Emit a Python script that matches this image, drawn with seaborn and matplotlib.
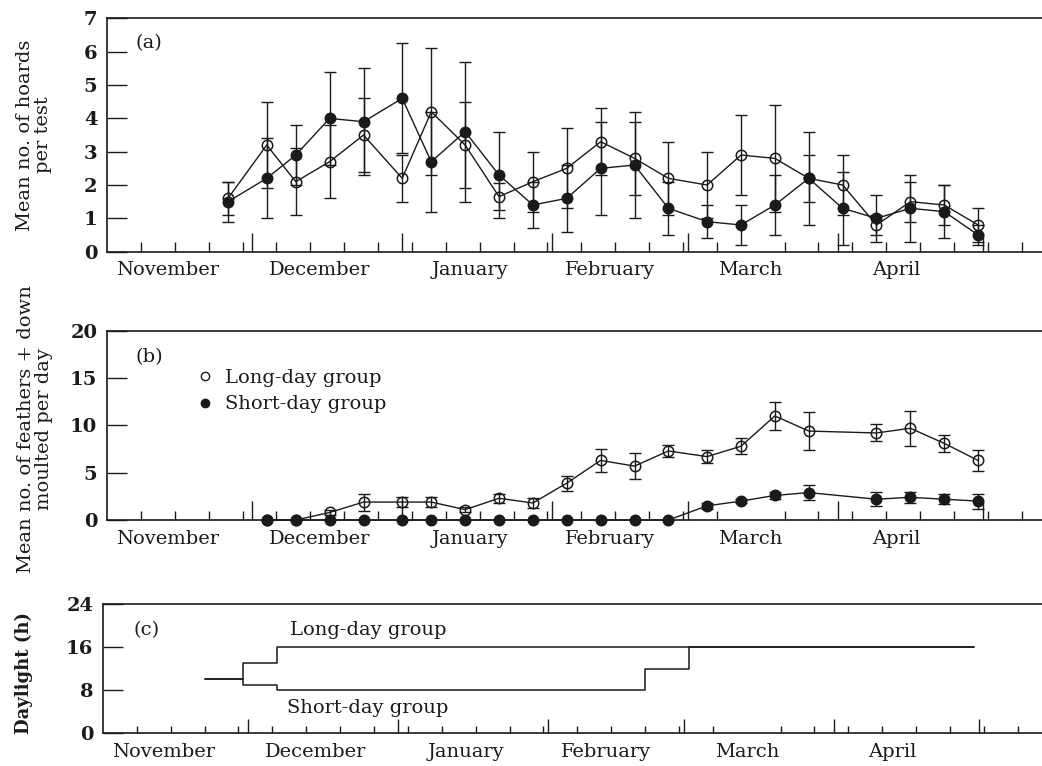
import numpy as np
import matplotlib
matplotlib.use("Agg")
import matplotlib.pyplot as plt
from matplotlib.lines import Line2D
import seaborn as sns

sns.set_theme(style="ticks")
plt.rcParams['font.family'] = ['DejaVu Serif']
plt.rcParams['font.size'] = 14

INK = '#1a1a1a'

# x axis: days counted from 1 November
months = ['November', 'December', 'January', 'February', 'March', 'April']
month_label_days = [12.5, 44, 75, 104, 133, 163]
month_starts = [30, 61, 92, 120, 151, 181]
week_days = list(range(7, 190, 7))

# (a) hoarding
hoard_days = [25, 33, 39, 46, 53, 61, 67, 74, 81, 88, 95, 102, 109, 116, 124, 131, 138, 145, 152, 159, 166, 173, 180]
long_hoard = [1.6, 3.2, 2.1, 2.7, 3.5, 2.2, 4.2, 3.2, 1.65, 2.1, 2.5, 3.3, 2.8, 2.2, 2.0, 2.9, 2.8, 2.2, 2.0, 0.8, 1.5, 1.4, 0.8]
long_hoard_se = [0.5, 1.3, 1.0, 1.1, 1.1, 0.7, 1.9, 1.3, 0.4, 0.9, 1.2, 1.0, 1.1, 1.1, 1.0, 1.2, 1.6, 0.7, 0.9, 0.3, 0.6, 0.6, 0.5]
short_hoard = [1.5, 2.2, 2.9, 4.0, 3.9, 4.6, 2.7, 3.6, 2.3, 1.4, 1.6, 2.5, 2.6, 1.3, 0.9, 0.8, 1.4, 2.2, 1.3, 1.0, 1.3, 1.2, 0.5]
short_hoard_se = [0.6, 1.2, 0.9, 1.4, 1.6, 1.65, 1.5, 2.1, 1.3, 0.7, 1.0, 1.4, 1.6, 0.8, 0.5, 0.6, 0.9, 1.4, 1.1, 0.7, 1.0, 0.8, 0.3]

# (b) moult
moult_days = [33, 39, 46, 53, 61, 67, 74, 81, 88, 95, 102, 109, 116, 124, 131, 138, 145, 159, 166, 173, 180]
long_moult = [0, 0, 0.8, 1.9, 1.9, 1.9, 1.1, 2.3, 1.8, 3.9, 6.3, 5.7, 7.3, 6.7, 7.8, 11.0, 9.4, 9.2, 9.7, 8.1, 6.3]
long_moult_se = [0, 0, 0.3, 0.9, 0.55, 0.5, 0.3, 0.5, 0.5, 0.8, 1.2, 1.35, 0.65, 0.65, 0.85, 1.45, 2.0, 0.9, 1.85, 0.9, 1.15]
short_moult = [0, 0, 0, 0, 0, 0, 0, 0, 0, 0, 0, 0, 0, 1.5, 2.0, 2.6, 2.9, 2.2, 2.4, 2.2, 2.0]
short_moult_se = [0, 0, 0, 0, 0, 0, 0, 0, 0, 0, 0, 0, 0, 0.35, 0.25, 0.35, 0.8, 0.75, 0.6, 0.5, 0.8]

# (c) photoperiod
long_light_days = [21, 29, 36, 180]
long_light = [10, 13, 16, 16]
short_light_days = [21, 29, 36, 112, 121, 180]
short_light = [10, 9, 8, 12, 16, 16]


def style_axis(ax, xmax, ymax, yticks, minor_len, major_len):
    ax.set_xlim(0, xmax)
    ax.set_ylim(0, ymax)
    ax.spines['right'].set_visible(False)
    for s in ['top', 'left', 'bottom']:
        ax.spines[s].set_linewidth(1.2)
        ax.spines[s].set_color(INK)
    ax.set_xticks(month_label_days, labels=months)
    ax.set_xticks(week_days, minor=True)
    ax.tick_params(axis='x', which='major', length=0, pad=7, labelsize=14, colors=INK)
    ax.tick_params(axis='x', which='minor', direction='in', length=minor_len, width=1, color=INK)
    ax.set_yticks(yticks)
    ax.tick_params(axis='y', direction='in', length=14.4, width=1, pad=7, labelsize=14, colors=INK)
    for lab in ax.get_yticklabels():
        lab.set_fontweight('bold')
    sec = ax.secondary_xaxis('bottom')
    sec.set_xticks(month_starts)
    sec.tick_params(direction='in', length=major_len, width=1, labelbottom=False, color=INK)
    sec.spines['bottom'].set_visible(False)
    ax.set_xlabel('')


def draw_series(ax, days, vals, errs, filled):
    face = INK if filled else 'none'
    sns.lineplot(x=days, y=vals, ax=ax, color=INK, linewidth=1.0, marker='o',
                 markersize=7.5, markerfacecolor=face, markeredgecolor=INK,
                 markeredgewidth=1.1, errorbar=None, clip_on=False, zorder=3)
    d = np.array(days)
    v = np.array(vals)
    e = np.array(errs)
    m = e > 0
    ax.errorbar(d[m], v[m], yerr=e[m], fmt='none', ecolor=INK, elinewidth=1.0,
                capsize=4.5, capthick=1.0, zorder=4, clip_on=False)


fig = plt.figure(figsize=(10.42, 7.66), dpi=100)
ax_a = fig.add_axes([0.1027, 0.6715, 0.8973, 0.3044])
ax_b = fig.add_axes([0.1027, 0.3211, 0.8973, 0.2471])
ax_c = fig.add_axes([0.0988, 0.0427, 0.9012, 0.1688])

# panel a
draw_series(ax_a, hoard_days, long_hoard, long_hoard_se, False)
draw_series(ax_a, hoard_days, short_hoard, short_hoard_se, True)
style_axis(ax_a, 193.2, 7, range(0, 8), 7.2, 13.7)
ax_a.set_ylabel('Mean no. of hoards\nper test', fontsize=14, color=INK, linespacing=1.0)
ax_a.yaxis.set_label_coords(-0.059, 0.5)
ax_a.text(5.8, 6.27, '(a)', fontsize=14, va='center', ha='left', color=INK)

# panel b
draw_series(ax_b, moult_days, long_moult, long_moult_se, False)
draw_series(ax_b, moult_days, short_moult, short_moult_se, True)
style_axis(ax_b, 193.2, 20, [0, 5, 10, 15, 20], 6.5, 13.7)
ax_b.set_ylabel('Mean no. of feathers + down\nmoulted per day', fontsize=14, color=INK, linespacing=1.0)
ax_b.yaxis.set_label_coords(-0.058, 0.48)
ax_b.text(5.8, 17.2, '(b)', fontsize=14, va='center', ha='left', color=INK)
handles = [
    Line2D([], [], linestyle='none', marker='o', markersize=6, markerfacecolor='none',
           markeredgecolor=INK, markeredgewidth=1.0),
    Line2D([], [], linestyle='none', marker='o', markersize=6, markerfacecolor=INK,
           markeredgecolor=INK, markeredgewidth=1.0),
]
ax_b.legend(handles, ['Long-day group', 'Short-day group'], loc='upper left',
            bbox_to_anchor=(0.094, 0.80), frameon=False, fontsize=14, handlelength=1.0,
            handletextpad=0.55, borderpad=0, borderaxespad=0, labelspacing=0.45, labelcolor=INK)

# panel c
sns.lineplot(x=long_light_days, y=long_light, ax=ax_c, color=INK, linewidth=1.1,
             drawstyle='steps-post', errorbar=None)
sns.lineplot(x=short_light_days, y=short_light, ax=ax_c, color=INK, linewidth=1.1,
             drawstyle='steps-post', errorbar=None)
style_axis(ax_c, 194.0, 24, [0, 8, 16, 24], 5.3, 10)
ax_c.set_ylabel('Daylight (h)', fontsize=13, fontweight='bold', color=INK)
ax_c.yaxis.set_label_coords(-0.075, 0.47)
ax_c.text(6.4, 19.1, '(c)', fontsize=14, va='center', ha='left', color=INK)
ax_c.text(38.6, 19.1, 'Long-day group', fontsize=14, va='center', ha='left', color=INK)
ax_c.text(38.0, 4.7, 'Short-day group', fontsize=14, va='center', ha='left', color=INK)

for ax in (ax_a, ax_b, ax_c):
    if ax.get_legend() is not None and ax is not ax_b:
        ax.get_legend().remove()

fig.savefig('out.png', dpi=100)
